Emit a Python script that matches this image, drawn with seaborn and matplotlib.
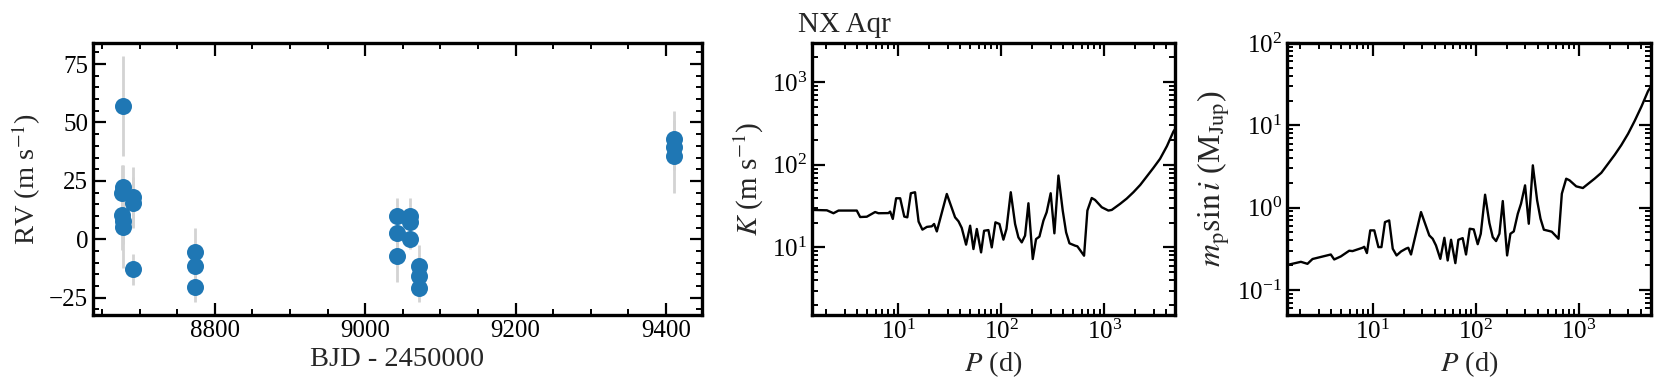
import numpy as np
import pandas as pd
import matplotlib
matplotlib.use("Agg")
import matplotlib.pyplot as plt
from matplotlib.ticker import MultipleLocator, LogLocator, NullFormatter
import seaborn as sns

# ---------------- data ----------------
# RV time series (BJD - 2450000), RV (m/s), error (m/s)
bjd = [8677.6, 8677.4, 8676.8, 8677.2, 8677.8, 8677.9,
       8691.4, 8691.2, 8691.4,
       8773.4, 8773.4, 8773.4,
       9042.2, 9042.2, 9042.2,
       9059.4, 9059.6, 9059.4,
       9071.3, 9071.3, 9071.3,
       9410.5, 9410.5, 9410.5]
rv = [57.2, 22.3, 19.7, 10.4, 7.8, 5.4,
      18.0, 15.7, -12.9,
      -5.3, -11.3, -20.3,
      9.9, 2.9, -7.2,
      9.9, 7.6, 0.3,
      -11.5, -15.7, -20.8,
      43.0, 39.7, 35.5]
rv_err = [21.4, 9.5, 12.0, 15.0, 10.0, 17.8,
          12.9, 11.0, 6.5,
          10.0, 8.0, 6.5,
          7.9, 8.0, 11.2,
          7.9, 6.0, 4.3,
          8.9, 7.0, 6.2,
          11.9, 10.0, 15.5]

# Detection limits: period (d), semi-amplitude K (m/s), minimum mass (M_Jup)
period = [1.45, 2.02, 2.34, 2.62, 3.94, 4.25, 4.93, 5.94, 6.40, 8.00,
          8.31, 8.82, 9.50, 10.4, 11.4, 12.2, 13.2, 14.5, 15.7, 17.1,
          18.9, 21.1, 22.2, 23.6, 29.5, 35.5, 38.3, 41.2, 45.4, 49.7,
          53.5, 57.7, 63.5, 67.9, 74.8, 80.6, 87.5, 95.7, 104.6, 112.0,
          123.3, 135.8, 146.3, 157.6, 169.8, 183.0, 201.6, 217.0, 234.0, 256.0,
          275.0, 301.0, 327.0, 358.0, 394.0, 425.0, 458.0, 519.0, 547.0, 635.0,
          684.0, 754.0, 812.0, 943.0, 1094.0, 1179.0, 1420.0, 1650.0, 1914.0, 2230.0,
          2578.0, 3000.0, 3473.0, 4050.0, 4680.0, 4900.0]
k_amp = [28.4, 28.1, 25.9, 27.9, 27.9, 23.3, 23.5, 26.8, 25.9, 26.0,
         27.1, 22.1, 39.3, 39.3, 23.6, 23.1, 45.2, 46.5, 20.5, 16.4,
         17.7, 18.0, 19.2, 15.6, 44.3, 23.1, 20.7, 17.2, 10.8, 18.3,
         9.55, 16.7, 8.7, 15.9, 16.2, 10.0, 20.1, 19.2, 12.4, 16.7,
         46.5, 19.2, 13.2, 11.5, 13.9, 34.2, 7.23, 12.6, 13.5, 21.1,
         26.6, 45.2, 14.8, 74.0, 27.9, 15.2, 11.2, 10.5, 10.3, 7.93,
         27.9, 39.6, 37.5, 30.6, 27.9, 28.4, 33.6, 39.0, 46.5, 57.0,
         72.0, 92.0, 118.0, 168.0, 252.0, 275.0]
msini = [0.200, 0.220, 0.208, 0.238, 0.270, 0.235, 0.256, 0.300, 0.297, 0.326,
         0.335, 0.281, 0.53, 0.53, 0.332, 0.332, 0.668, 0.70, 0.317, 0.263,
         0.294, 0.318, 0.326, 0.270, 0.885, 0.46, 0.419, 0.348, 0.239, 0.431,
         0.2285, 0.4076, 0.212, 0.4076, 0.427, 0.270, 0.555, 0.545, 0.36, 0.4825,
         1.438, 0.65, 0.439, 0.393, 0.4825, 1.204, 0.263, 0.4825, 0.515, 0.845,
         1.118, 1.868, 0.638, 3.27, 1.227, 0.734, 0.54, 0.52, 0.51, 0.419,
         1.479, 2.25, 2.15, 1.816, 1.733, 1.868, 2.25, 2.65, 3.4, 4.4,
         5.75, 7.9, 11.3, 17.0, 26.0, 28.5]

rv_df = pd.DataFrame({"bjd": bjd, "rv": rv, "err": rv_err})
lim_df = pd.DataFrame({"P": period, "K": k_amp, "M": msini})

# ---------------- style ----------------
sns.set_style("ticks")
plt.rcParams.update({
    "font.family": ["serif"],
    "font.serif": ["Liberation Serif", "DejaVu Serif"],
    "mathtext.fontset": "stix",
    "axes.linewidth": 2.4,
    "xtick.major.width": 1.6, "ytick.major.width": 1.6,
    "xtick.minor.width": 1.4, "ytick.minor.width": 1.4,
    "xtick.major.size": 9, "ytick.major.size": 9,
    "xtick.minor.size": 4.5, "ytick.minor.size": 4.5,
    "xtick.direction": "in", "ytick.direction": "in",
    "xtick.labelsize": 18, "ytick.labelsize": 18,
    "axes.labelsize": 20.5,
    "xtick.color": "black", "ytick.color": "black",
    "axes.edgecolor": "black",
})

fig = plt.figure(figsize=(16.61, 3.89), dpi=100)
bot, hgt = 0.1902, 0.6992
ax1 = fig.add_axes([0.0560, bot, 0.3667, hgt])
ax2 = fig.add_axes([0.4889, bot, 0.2185, hgt])
ax3 = fig.add_axes([0.7748, bot, 0.2191, hgt])

# ---- panel 1: RV ----
ax1.errorbar(rv_df["bjd"], rv_df["rv"], yerr=rv_df["err"], fmt="none",
             ecolor="#d3d3d3", elinewidth=2.0, capsize=0, zorder=1)
sns.scatterplot(data=rv_df, x="bjd", y="rv", ax=ax1, color="#1f77b4",
                s=150, linewidth=0, zorder=2, legend=False)
ax1.set_xlim(8638, 9448)
ax1.set_ylim(-32.4, 84)
ax1.xaxis.set_major_locator(MultipleLocator(200))
ax1.xaxis.set_minor_locator(MultipleLocator(50))
ax1.yaxis.set_major_locator(MultipleLocator(25))
ax1.yaxis.set_minor_locator(MultipleLocator(5))
ax1.set_xlabel("BJD - 2450000")
ax1.set_ylabel(r"RV (m s$^{-1}$)")

# ---- panel 2: K ----
sns.lineplot(data=lim_df, x="P", y="K", ax=ax2, color="black",
             linewidth=1.7, estimator=None, sort=False)
ax2.set_xscale("log")
ax2.set_yscale("log")
ax2.set_xlim(1.45, 4850)
ax2.set_ylim(1.52, 2970)
ax2.set_xlabel(r"$P$ (d)")
ax2.set_ylabel(r"$K$ (m s$^{-1}$)", fontsize=21)

# ---- panel 3: m sin i ----
sns.lineplot(data=lim_df, x="P", y="M", ax=ax3, color="black",
             linewidth=1.7, estimator=None, sort=False)
ax3.set_xscale("log")
ax3.set_yscale("log")
ax3.set_xlim(1.48, 4990)
ax3.set_ylim(0.0497, 100)
ax3.set_xlabel(r"$P$ (d)")
ax3.set_ylabel(r"$m_{\rm p}\sin i$ (M$_{\rm Jup}$)", fontsize=23)

for ax in (ax2, ax3):
    ax.xaxis.set_major_locator(LogLocator(base=10, numticks=20))
    ax.xaxis.set_minor_locator(LogLocator(base=10, subs=np.arange(2, 10), numticks=20))
    ax.yaxis.set_major_locator(LogLocator(base=10, numticks=20))
    ax.yaxis.set_minor_locator(LogLocator(base=10, subs=np.arange(2, 10), numticks=20))
    ax.xaxis.set_minor_formatter(NullFormatter())
    ax.yaxis.set_minor_formatter(NullFormatter())

for ax in (ax1, ax2, ax3):
    ax.tick_params(which="both", direction="in", top=True, right=True)
    for sp in ax.spines.values():
        sp.set_visible(True)
        sp.set_linewidth(2.4)

fig.text(798 / 1661, 1 - 32 / 389, "NX Aqr", fontsize=21, ha="left", va="baseline")

fig.savefig("out.png", dpi=100)
